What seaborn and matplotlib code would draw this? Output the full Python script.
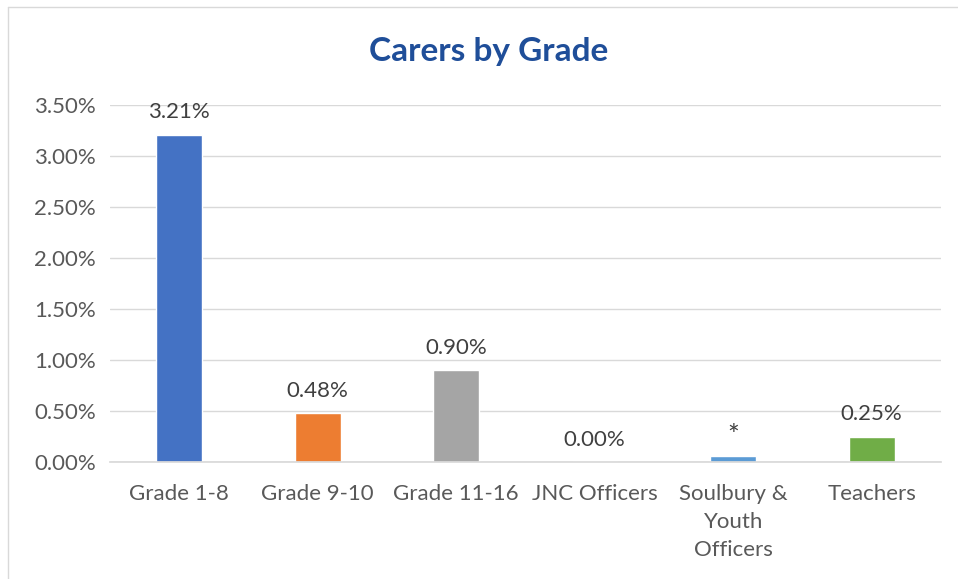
import matplotlib
matplotlib.use("Agg")
import matplotlib.pyplot as plt
import seaborn as sns
import pandas as pd

categories = ["Grade 1-8", "Grade 9-10", "Grade 11-16", "JNC Officers", "Soulbury &\nYouth\nOfficers", "Teachers"]
values = [3.21, 0.48, 0.90, 0.00, 0.06, 0.25]
labels = ["3.21%", "0.48%", "0.90%", "0.00%", "*", "0.25%"]
colors = ["#4472C4", "#ED7D31", "#A5A5A5", "#FFC000", "#5B9BD5", "#70AD47"]
yticks = [0.0, 0.5, 1.0, 1.5, 2.0, 2.5, 3.0, 3.5]

sns.set_theme(style="white")
plt.rcParams['font.family'] = ['Lato', 'DejaVu Sans']

df = pd.DataFrame({"cat": categories, "val": values})
fig = plt.figure(figsize=(9.58, 5.79), dpi=100)
ax = fig.add_axes([110/958, 1-462/579, 831/958, (462-105)/579])
sns.barplot(data=df, x="cat", y="val", hue="cat", palette=colors, legend=False, width=0.33, ax=ax, saturation=1)

ax.set_ylim(0, 3.5)
ax.set_yticks(yticks)
ax.set_yticklabels([f"{v:.2f}%" for v in yticks], fontsize=16, color="#595959")
ax.tick_params(axis='x', labelsize=16, colors="#595959", pad=16, length=0)
ax.tick_params(axis='y', length=0, pad=10)
for lab in ax.get_xticklabels():
    lab.set_linespacing(1.5)
ax.set_xlabel("")
ax.set_ylabel("")
ax.yaxis.grid(True, color="#D9D9D9", linewidth=1)
ax.set_axisbelow(True)
for s in ["top", "right", "left"]:
    ax.spines[s].set_visible(False)
ax.spines["bottom"].set_color("#D9D9D9")
ax.set_xlim(-0.5, 5.5)

for i, (v, l) in enumerate(zip(values, labels)):
    is_star = l == "*"
    ax.annotate(l, (i, v), xytext=(0, 4 if is_star else 9), textcoords="offset points", ha="center", va="bottom",
                fontsize=20 if is_star else 16, color="#404040")

fig.text(489/958, 1-52/579, "Carers by Grade", ha="center", va="center", fontsize=24,
         fontweight="bold", color="#1F4E99")

# outer border
fig.add_artist(plt.Line2D([8/958, 8/958], [0, 1-7/579], transform=fig.transFigure, color="#D9D9D9", lw=1))
fig.add_artist(plt.Line2D([8/958, 1], [1-7/579, 1-7/579], transform=fig.transFigure, color="#D9D9D9", lw=1))

fig.savefig("out.png", dpi=100)
